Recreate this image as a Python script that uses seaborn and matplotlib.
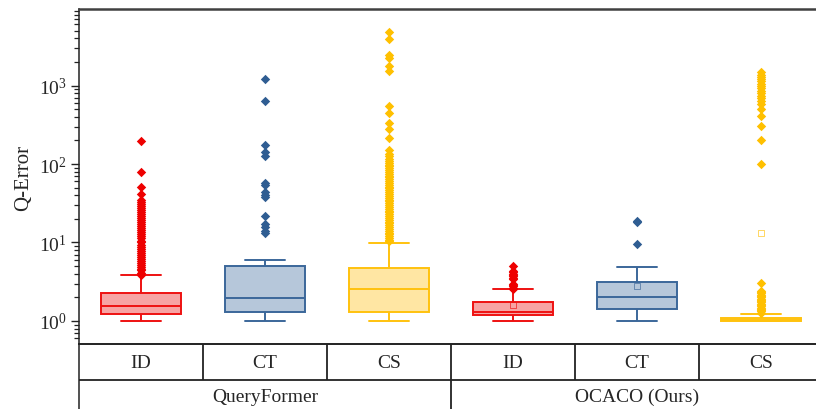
import numpy as np
import pandas as pd
import matplotlib
matplotlib.use("Agg")
import matplotlib.pyplot as plt
import matplotlib.transforms as mtransforms
import seaborn as sns

# ---------------- data ----------------
methods = ["QueryFormer", "OCACO (Ours)"]
splits = ["ID", "CT", "CS"]
positions = ["QF-ID", "QF-CT", "QF-CS", "OC-ID", "OC-CT", "OC-CS"]
pos_split = ["ID", "CT", "CS", "ID", "CT", "CS"]

# box statistics: lower whisker, Q1, median, Q3, upper whisker
whis_low = [1.0, 1.0, 1.0, 1.0, 1.0, 1.0]
q1 = [1.24, 1.29, 1.29, 1.19, 1.42, 1.0]
median = [1.54, 1.96, 2.58, 1.31, 2.0, 1.04]
q3 = [2.26, 5.05, 4.7, 1.72, 3.12, 1.1]
whis_high = [3.8, 6.0, 9.85, 2.52, 4.92, 1.23]

out_qf_id = [3.9, 4.1, 4.4, 4.6, 4.9, 5.2, 5.5, 5.8, 6.2, 6.6, 7.0, 7.4, 7.8, 8.3,
             8.8, 9.4, 10, 10.6, 11.3, 12, 12.7, 13.5, 14.3, 15.2, 16.1, 17.1, 18.2,
             19.3, 20.5, 21.8, 23, 24.5, 26, 27.6, 29, 31, 33, 35, 41, 51, 80, 198]
out_qf_ct = [13.1, 14.1, 15.6, 17.2, 22, 38, 40, 44, 54, 58, 125, 141, 175, 640, 1200]
out_qf_cs = [10.3, 10.8, 11.4, 12, 12.7, 13.4, 14.1, 14.9, 15.7, 16.6, 17.5, 18.5,
             19.5, 20.6, 21.7, 22.9, 24.2, 25.5, 26.9, 28.4, 30, 31.7, 33.4, 35.3,
             37.2, 39.3, 41.5, 43.8, 46.2, 48.8, 51.5, 54.3, 57.3, 60.5, 63.9, 67.4,
             71.2, 75.1, 79.3, 83.7, 88.3, 93, 98, 104, 110, 116, 125, 134, 152, 216,
             279, 333, 443, 543, 1540, 1790, 2220, 2450, 3910, 4850]
out_oc_id = [2.55, 2.65, 2.75, 2.85, 2.95, 3.4, 3.55, 3.7, 3.85, 4.0, 4.15, 4.3, 4.98]
out_oc_ct = [9.57, 18.2, 19.0]
out_oc_cs = [1.28, 1.33, 1.38, 1.43, 1.48, 1.54, 1.6, 1.66, 1.72, 1.79, 1.86, 1.93,
             2.0, 2.08, 2.16, 2.25, 2.35, 2.43, 3.02, 101, 202, 302, 405, 505, 590,
             640, 690, 740, 800, 860, 920, 990, 1060, 1140, 1220, 1300, 1380, 1470]
outliers = [out_qf_id, out_qf_ct, out_qf_cs, out_oc_id, out_oc_ct, out_oc_cs]

mean_positions = ["OC-ID", "OC-CT", "OC-CS"]
mean_values = [1.61, 2.79, 13.3]

edge_colors = {"ID": "#EE1111", "CT": "#3B679A", "CS": "#FFC20E"}
face_colors = {"ID": "#F7A4A4", "CT": "#B6C7DA", "CS": "#FFE6A3"}
marker_colors = {"ID": "#EE0000", "CT": "#2F5D92", "CS": "#FFC000"}

# ---------------- build tables ----------------
box_rows = []
for i, p in enumerate(positions):
    for v in (whis_low[i], q1[i], median[i], q3[i], whis_high[i]):
        box_rows.append({"pos": p, "value": v})
box_df = pd.DataFrame(box_rows)

out_rows = []
for p, vals in zip(positions, outliers):
    for v in vals:
        out_rows.append({"pos": p, "value": v})
out_df = pd.DataFrame(out_rows)

mean_df = pd.DataFrame({"pos": mean_positions, "value": mean_values})

# ---------------- style ----------------
sns.set_theme(style="ticks")
plt.rcParams["font.family"] = ["Liberation Serif", "DejaVu Serif"]
plt.rcParams["mathtext.fontset"] = "custom"
plt.rcParams["mathtext.rm"] = "Liberation Serif"
plt.rcParams["mathtext.it"] = "Liberation Serif:italic"
plt.rcParams["mathtext.bf"] = "Liberation Serif:bold"

fig = plt.figure(figsize=(8.16, 4.10), dpi=100)
ax = fig.add_axes([79 / 816, 65 / 410, 744 / 816, 335 / 410])

for i, p in enumerate(positions):
    s = pos_split[i]
    sns.boxplot(data=box_df[box_df["pos"] == p], x="pos", y="value", order=positions,
                color=face_colors[s], linecolor=edge_colors[s], saturation=1,
                width=0.64, whis=(0, 100), showfliers=False, linewidth=1.4,
                log_scale=True, ax=ax)

for i, p in enumerate(positions):
    s = pos_split[i]
    sns.stripplot(data=out_df[out_df["pos"] == p], x="pos", y="value", order=positions,
                  color=marker_colors[s], marker="D", size=4.8, jitter=False,
                  linewidth=0, ax=ax)

for p in mean_positions:
    s = pos_split[positions.index(p)]
    n_before = len(ax.collections)
    sns.stripplot(data=mean_df[mean_df["pos"] == p], x="pos", y="value", order=positions,
                  color=edge_colors[s], marker="s", size=4.4, jitter=False, ax=ax)
    for coll in ax.collections[n_before:]:
        coll.set_facecolors("none")
        coll.set_edgecolors(edge_colors[s])
        coll.set_linewidths(0.6)
        coll.set_alpha(0.75)
        coll.set_zorder(5)

ax.set_yscale("log")
ax.set_ylim(0.509, 9440)
ax.set_xlim(-0.5, 5.5)
ax.set_xlabel("")
ax.set_ylabel("Q-Error", fontsize=15, labelpad=4)
ax.set_xticks([])

ax.yaxis.set_major_locator(matplotlib.ticker.LogLocator(base=10, numticks=10))
ax.yaxis.set_minor_locator(matplotlib.ticker.LogLocator(base=10, subs=np.arange(2, 10), numticks=50))
ax.yaxis.set_major_formatter(matplotlib.ticker.LogFormatterMathtext())
ax.yaxis.set_minor_formatter(matplotlib.ticker.NullFormatter())
ax.tick_params(axis="y", which="major", length=6, width=1.0, direction="out",
               labelsize=14, color="#222222", pad=3)
ax.tick_params(axis="y", which="minor", length=3.5, width=0.9, direction="out",
               color="#222222")

ax.spines["right"].set_visible(False)
ax.spines["top"].set_color("#404040")
ax.spines["top"].set_linewidth(1.8)
ax.spines["left"].set_color("#222222")
ax.spines["left"].set_linewidth(1.1)
ax.spines["bottom"].set_color("#222222")
ax.spines["bottom"].set_linewidth(1.4)

# ---------------- category table under the axis ----------------
blend = mtransforms.blended_transform_factory(ax.transData, ax.transAxes)
row1_y = -0.106
row_bottom = -0.25
line_kw = dict(color="#222222", lw=1.3, clip_on=False, solid_capstyle="butt")
ax.plot([0, 1.02], [row1_y, row1_y], transform=ax.transAxes, **line_kw)
ax.plot([0, 0], [0, row_bottom], transform=ax.transAxes, color="#222222", lw=1.1,
        clip_on=False)
for b in [0.5, 1.5, 2.5, 3.5, 4.5]:
    ax.plot([b, b], [0, row1_y], transform=blend, **line_kw)
ax.plot([2.5, 2.5], [row1_y, row_bottom], transform=blend, **line_kw)

for i, s in enumerate(pos_split):
    ax.text(i, -0.054, s, transform=blend, ha="center", va="center", fontsize=14)
for j, m in enumerate(methods):
    ax.text(1 + 3 * j, -0.157, m, transform=blend, ha="center", va="center", fontsize=14)

fig.savefig("out.png", dpi=100)
